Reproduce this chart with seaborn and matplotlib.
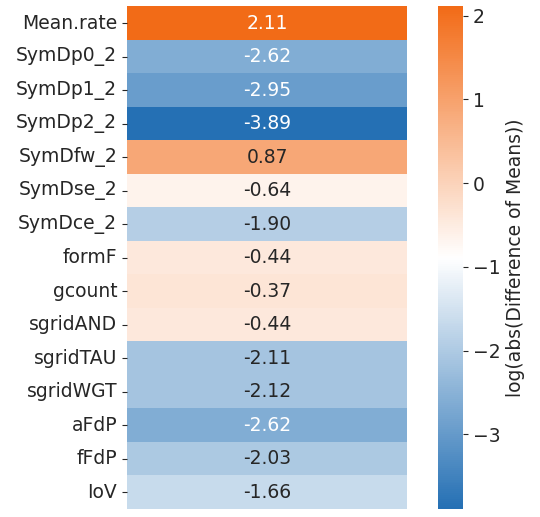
import numpy as np
import pandas as pd
import seaborn as sns
import matplotlib
matplotlib.use("Agg")
import matplotlib.pyplot as plt
from matplotlib.colors import LinearSegmentedColormap

features = ["Mean.rate", "SymDp0_2", "SymDp1_2", "SymDp2_2", "SymDfw_2", "SymDse_2",
            "SymDce_2", "formF", "gcount", "sgridAND", "sgridTAU", "sgridWGT",
            "aFdP", "fFdP", "IoV"]
values = [2.11, -2.62, -2.95, -3.89, 0.87, -0.64, -1.90, -0.44, -0.37, -0.44,
          -2.11, -2.12, -2.62, -2.03, -1.66]
cbar_label = "log(abs(Difference of Means))"

df = pd.DataFrame({"v": values}, index=features)

cmap = LinearSegmentedColormap.from_list("bwo", ["#2570b4", "#ffffff", "#f26b17"])

fs = 13.5
fig = plt.figure(figsize=(5.4, 5.17), dpi=100)
ax = fig.add_axes([0.235, 0.0155, 0.519, 0.972])
cax = fig.add_axes([0.811, 0.0155, 0.046, 0.972])
sns.heatmap(df, ax=ax, cbar_ax=cax, cmap=cmap, annot=True, fmt=".2f",
            annot_kws={"fontsize": fs},
            cbar_kws={"label": cbar_label})
ax.set_xticks([])
ax.set_ylabel("")
ax.tick_params(axis="y", labelsize=fs, rotation=0, colors="#262626")
cax.tick_params(labelsize=fs, colors="#262626")
cax.yaxis.label.set_size(fs)
cax.yaxis.label.set_color("#262626")
fig.savefig("out.png", dpi=100)
